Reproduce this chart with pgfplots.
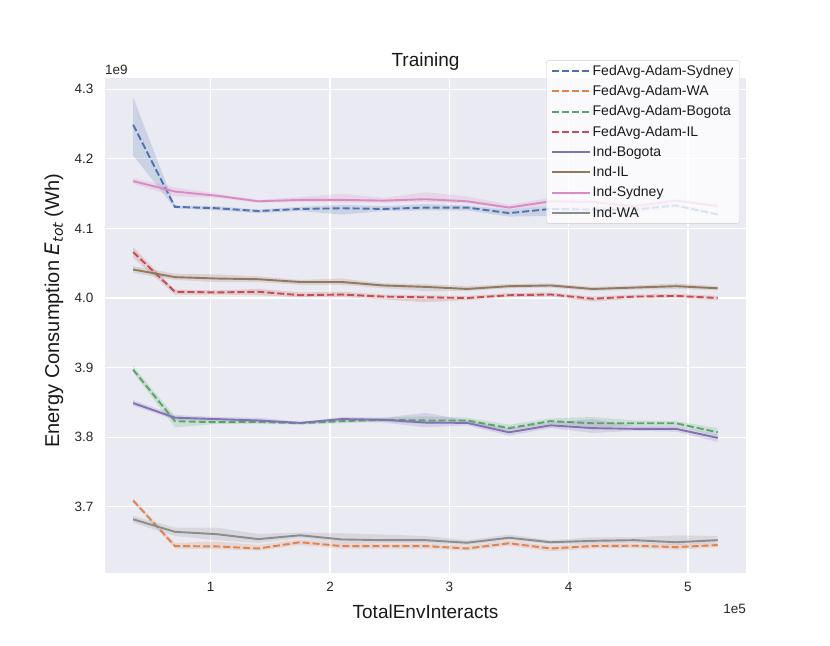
\documentclass[border=0pt]{standalone}
\usepackage{fontspec}
\setmainfont{Liberation Sans}
\newfontfamily\dejavu{DejaVu Sans}
\usepackage{pgfplots}
\usepackage{pgfplotstable}
\pgfplotsset{compat=1.18}
\definecolor{bgc}{HTML}{EAEAF2}
\definecolor{cblue}{HTML}{4C72B0}
\definecolor{corange}{HTML}{DD8452}
\definecolor{cgreen}{HTML}{55A868}
\definecolor{cred}{HTML}{C44E52}
\definecolor{cpurple}{HTML}{8172B3}
\definecolor{cbrown}{HTML}{937860}
\definecolor{cpink}{HTML}{DA8BC3}
\definecolor{cgrey}{HTML}{8C8C8C}

\pgfplotstableread{
x m
0.35 4.249
0.70 4.131
1.05 4.129
1.40 4.125
1.75 4.128
2.10 4.129
2.45 4.128
2.80 4.130
3.15 4.130
3.50 4.122
3.85 4.128
4.20 4.127
4.55 4.127
4.90 4.133
5.25 4.120
}\tblue
\pgfplotstableread{
x m
0.35 3.709
0.70 3.6435
1.05 3.643
1.40 3.640
1.75 3.649
2.10 3.6435
2.45 3.6435
2.80 3.6435
3.15 3.640
3.50 3.6475
3.85 3.640
4.20 3.6435
4.55 3.644
4.90 3.642
5.25 3.645
}\torange
\pgfplotstableread{
x m
0.35 3.897
0.70 3.823
1.05 3.8215
1.40 3.822
1.75 3.820
2.10 3.823
2.45 3.825
2.80 3.824
3.15 3.824
3.50 3.813
3.85 3.823
4.20 3.820
4.55 3.820
4.90 3.820
5.25 3.807
}\tgreen
\pgfplotstableread{
x m
0.35 4.066
0.70 4.009
1.05 4.008
1.40 4.009
1.75 4.004
2.10 4.005
2.45 4.002
2.80 4.001
3.15 4.000
3.50 4.004
3.85 4.005
4.20 3.999
4.55 4.002
4.90 4.003
5.25 4.000
}\tred
\pgfplotstableread{
x m
0.35 3.849
0.70 3.828
1.05 3.826
1.40 3.824
1.75 3.8205
2.10 3.826
2.45 3.825
2.80 3.821
3.15 3.8205
3.50 3.807
3.85 3.817
4.20 3.813
4.55 3.812
4.90 3.812
5.25 3.799
}\tpurple
\pgfplotstableread{
x m
0.35 4.041
0.70 4.030
1.05 4.028
1.40 4.027
1.75 4.023
2.10 4.023
2.45 4.018
2.80 4.016
3.15 4.013
3.50 4.017
3.85 4.018
4.20 4.013
4.55 4.015
4.90 4.017
5.25 4.014
}\tbrown
\pgfplotstableread{
x m
0.35 4.168
0.70 4.153
1.05 4.147
1.40 4.139
1.75 4.141
2.10 4.141
2.45 4.140
2.80 4.142
3.15 4.139
3.50 4.130
3.85 4.139
4.20 4.138
4.55 4.132
4.90 4.140
5.25 4.132
}\tpink
\pgfplotstableread{
x m
0.35 3.682
0.70 3.664
1.05 3.6606
1.40 3.6535
1.75 3.659
2.10 3.653
2.45 3.652
2.80 3.652
3.15 3.6483
3.50 3.6555
3.85 3.649
4.20 3.651
4.55 3.652
4.90 3.649
5.25 3.652
}\tgrey

\begin{document}
\begin{tikzpicture}
\path[use as bounding box] (0,0) rectangle (830bp,646bp);
\begin{axis}[
  at={(105bp,73bp)}, anchor=south west,
  scale only axis, width=641bp, height=495bp,
  xmin=0.114, xmax=5.487, ymin=3.6048, ymax=4.3162,
  xtick={1,2,3,4,5},
  ytick={3.7,3.8,3.9,4.0,4.1,4.2,4.3},
  yticklabel style={/pgf/number format/.cd,fixed,fixed zerofill,precision=1},
  /pgf/number format/assume math mode=true,
  tick label style={font=\fontsize{13.5bp}{16bp}\selectfont, text=black!85},
  xticklabel shift=6bp, yticklabel shift=8bp,
  axis background/.style={fill=bgc},
  axis line style={draw=none},
  tick style={draw=none},
  grid=major,
  major grid style={white, line width=1.2bp},
  every axis x label/.style={at={(axis description cs:0.5,-0.079)}, anchor=center, font=\fontsize{19bp}{22bp}\selectfont, text=black!90},
  every axis y label/.style={at={(axis description cs:-0.0796,0.53)}, anchor=center, rotate=90, font=\fontsize{20bp}{23bp}\selectfont, text=black!90},
  xlabel={TotalEnvInteracts},
  ylabel={Energy Consumption {\dejavu\itshape E\kern0.5bp\raisebox{-3.7bp}{\fontsize{14bp}{16bp}\selectfont tot}} (Wh)},
  title={Training},
  every axis title/.style={at={(axis description cs:0.5,1.0323)}, anchor=center, font=\fontsize{19bp}{22bp}\selectfont, text=black!90},
  legend style={at={(axis description cs:0.9906,1.036)}, anchor=north east,
    draw=black!20, fill=white, fill opacity=0.8, text opacity=1, rounded corners=3bp,
    font=\fontsize{14bp}{17bp}\selectfont, row sep=5.6bp, inner xsep=5bp, inner ysep=3.5bp,
    nodes={inner sep=1.5bp, text=black!90}},
  legend cell align=left,
  legend image code/.code={\path (0bp,0bp) -- (38bp,0bp); \draw[#1] (0bp,0bp) -- (30bp,0bp);},
  dashed line/.style={dash pattern=on 7bp off 3bp},
  band/.style={fill=#1, fill opacity=0.2, draw=none, forget plot},
  clip=false,
]
% FedAvg-Adam-Sydney
\addplot[band=cblue] coordinates {(0.35,4.288)(0.70,4.133)(1.05,4.132)(1.40,4.127)(1.75,4.131)(2.10,4.134)(2.45,4.132)(2.80,4.135)(3.15,4.133)(3.50,4.127)(3.85,4.133)(4.20,4.132)(4.55,4.131)(4.90,4.136)(5.25,4.123)
 (5.25,4.117)(4.90,4.130)(4.55,4.123)(4.20,4.122)(3.85,4.118)(3.50,4.117)(3.15,4.126)(2.80,4.126)(2.45,4.125)(2.10,4.120)(1.75,4.125)(1.40,4.122)(1.05,4.126)(0.70,4.129)(0.35,4.205)};
\addplot[cblue, line width=1.9bp, dashed line] table[x=x,y=m]{\tblue};
\addlegendentry{FedAvg-Adam-Sydney}
% FedAvg-Adam-WA
\addplot[band=corange] coordinates {(0.35,3.712)(0.70,3.648)(1.05,3.650)(1.40,3.645)(1.75,3.653)(2.10,3.648)(2.45,3.647)(2.80,3.647)(3.15,3.644)(3.50,3.651)(3.85,3.644)(4.20,3.647)(4.55,3.647)(4.90,3.646)(5.25,3.648)
 (5.25,3.642)(4.90,3.638)(4.55,3.641)(4.20,3.640)(3.85,3.636)(3.50,3.644)(3.15,3.637)(2.80,3.640)(2.45,3.640)(2.10,3.640)(1.75,3.645)(1.40,3.637)(1.05,3.639)(0.70,3.640)(0.35,3.706)};
\addplot[corange, line width=1.9bp, dashed line] table[x=x,y=m]{\torange};
\addlegendentry{FedAvg-Adam-WA}
% FedAvg-Adam-Bogota
\addplot[band=cgreen] coordinates {(0.35,3.902)(0.70,3.830)(1.05,3.825)(1.40,3.825)(1.75,3.822)(2.10,3.826)(2.45,3.828)(2.80,3.830)(3.15,3.828)(3.50,3.818)(3.85,3.827)(4.20,3.829)(4.55,3.824)(4.90,3.823)(5.25,3.813)
 (5.25,3.802)(4.90,3.816)(4.55,3.816)(4.20,3.814)(3.85,3.819)(3.50,3.810)(3.15,3.820)(2.80,3.819)(2.45,3.822)(2.10,3.820)(1.75,3.818)(1.40,3.819)(1.05,3.819)(0.70,3.814)(0.35,3.893)};
\addplot[cgreen, line width=1.9bp, dashed line] table[x=x,y=m]{\tgreen};
\addlegendentry{FedAvg-Adam-Bogota}
% FedAvg-Adam-IL
\addplot[band=cred] coordinates {(0.35,4.073)(0.70,4.012)(1.05,4.011)(1.40,4.013)(1.75,4.008)(2.10,4.009)(2.45,4.005)(2.80,4.004)(3.15,4.003)(3.50,4.007)(3.85,4.008)(4.20,4.002)(4.55,4.005)(4.90,4.006)(5.25,4.003)
 (5.25,3.997)(4.90,4.000)(4.55,3.999)(4.20,3.995)(3.85,4.002)(3.50,4.001)(3.15,3.997)(2.80,3.994)(2.45,3.998)(2.10,4.001)(1.75,4.001)(1.40,4.004)(1.05,4.005)(0.70,4.005)(0.35,4.058)};
\addplot[cred, line width=1.9bp, dashed line] table[x=x,y=m]{\tred};
\addlegendentry{FedAvg-Adam-IL}
% Ind-Bogota
\addplot[band=cpurple] coordinates {(0.35,3.853)(0.70,3.832)(1.05,3.829)(1.40,3.828)(1.75,3.822)(2.10,3.829)(2.45,3.828)(2.80,3.835)(3.15,3.824)(3.50,3.812)(3.85,3.821)(4.20,3.826)(4.55,3.816)(4.90,3.816)(5.25,3.804)
 (5.25,3.793)(4.90,3.808)(4.55,3.809)(4.20,3.806)(3.85,3.813)(3.50,3.802)(3.15,3.817)(2.80,3.814)(2.45,3.821)(2.10,3.823)(1.75,3.819)(1.40,3.821)(1.05,3.823)(0.70,3.825)(0.35,3.845)};
\addplot[cpurple, line width=1.9bp] table[x=x,y=m]{\tpurple};
\addlegendentry{Ind-Bogota}
% Ind-IL
\addplot[band=cbrown] coordinates {(0.35,4.046)(0.70,4.035)(1.05,4.034)(1.40,4.031)(1.75,4.026)(2.10,4.028)(2.45,4.021)(2.80,4.020)(3.15,4.017)(3.50,4.020)(3.85,4.021)(4.20,4.016)(4.55,4.018)(4.90,4.021)(5.25,4.017)
 (5.25,4.011)(4.90,4.013)(4.55,4.012)(4.20,4.010)(3.85,4.015)(3.50,4.014)(3.15,4.010)(2.80,4.010)(2.45,4.014)(2.10,4.019)(1.75,4.019)(1.40,4.023)(1.05,4.023)(0.70,4.026)(0.35,4.036)};
\addplot[cbrown, line width=1.9bp] table[x=x,y=m]{\tbrown};
\addlegendentry{Ind-IL}
% Ind-Sydney
\addplot[band=cpink] coordinates {(0.35,4.172)(0.70,4.159)(1.05,4.150)(1.40,4.141)(1.75,4.145)(2.10,4.150)(2.45,4.144)(2.80,4.152)(3.15,4.146)(3.50,4.134)(3.85,4.144)(4.20,4.143)(4.55,4.136)(4.90,4.143)(5.25,4.136)
 (5.25,4.129)(4.90,4.137)(4.55,4.129)(4.20,4.134)(3.85,4.134)(3.50,4.127)(3.15,4.136)(2.80,4.138)(2.45,4.137)(2.10,4.137)(1.75,4.138)(1.40,4.137)(1.05,4.144)(0.70,4.146)(0.35,4.164)};
\addplot[cpink, line width=1.9bp] table[x=x,y=m]{\tpink};
\addlegendentry{Ind-Sydney}
% Ind-WA
\addplot[band=cgrey] coordinates {(0.35,3.687)(0.70,3.670)(1.05,3.670)(1.40,3.661)(1.75,3.663)(2.10,3.662)(2.45,3.660)(2.80,3.658)(3.15,3.652)(3.50,3.660)(3.85,3.652)(4.20,3.656)(4.55,3.656)(4.90,3.659)(5.25,3.658)
 (5.25,3.648)(4.90,3.645)(4.55,3.648)(4.20,3.647)(3.85,3.646)(3.50,3.652)(3.15,3.645)(2.80,3.648)(2.45,3.648)(2.10,3.648)(1.75,3.655)(1.40,3.648)(1.05,3.652)(0.70,3.658)(0.35,3.677)};
\addplot[cgrey, line width=1.9bp] table[x=x,y=m]{\tgrey};
\addlegendentry{Ind-WA}
\node[anchor=south west, inner sep=0pt, font=\fontsize{13.5bp}{16bp}\selectfont, text=black!85] at (axis description cs:0,1.007) {1e9};
\node[anchor=north east, inner sep=0pt, font=\fontsize{13.5bp}{16bp}\selectfont, text=black!85] at (axis description cs:1,-0.062) {1e5};
\end{axis}
\end{tikzpicture}
\end{document}
